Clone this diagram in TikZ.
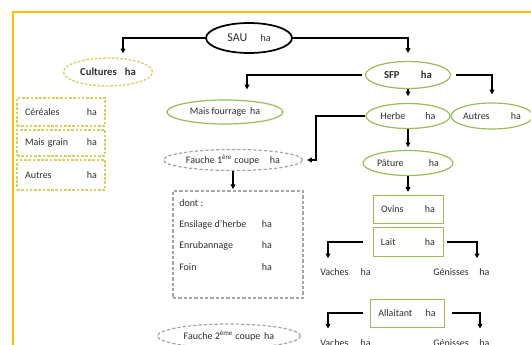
\documentclass[tikz,border=0pt]{standalone}
\usepackage{fontspec}
\setmainfont{Carlito}
\usetikzlibrary{shapes.geometric, arrows.meta, positioning}
\definecolor{framegold}{RGB}{255,192,0}
\definecolor{olivegreen}{RGB}{155,187,89}
\definecolor{dashyellow}{RGB}{214,208,96}
\definecolor{dashgray}{RGB}{165,165,165}
\definecolor{txtgray}{RGB}{45,45,45}

\begin{document}
\begin{tikzpicture}[x=0.75pt, y=-0.75pt, >={Triangle[length=3.5pt,width=3.5pt]},
      font=\fontsize{7.5}{9}\selectfont, text=txtgray,
      oval/.style={ellipse, inner sep=0pt},
      grn/.style={oval, draw=olivegreen, line width=0.9pt},
      ylw/.style={draw=dashyellow, line width=1pt, dash pattern=on 2pt off 1.2pt},
      gry/.style={draw=dashgray, line width=0.9pt, dash pattern=on 2.5pt off 1.5pt},
      bx/.style={draw=olivegreen, line width=0.7pt, minimum width=52.5pt,
                 minimum height=21pt, inner sep=0pt},
      cell/.style={ylw, minimum width=66pt, text width=54pt, inner xsep=6pt, inner ysep=0pt},
      arr/.style={->, draw=black, line width=1pt},
      lbl/.style={anchor=west, inner sep=0pt}]
    \useasboundingbox (0,0) rectangle (531,345);
    \draw[framegold, line width=1.8pt] (13,345) -- (13,12) -- (531,12);

    \node[oval, draw=black, line width=1.3pt, minimum width=64.5pt, minimum height=22.5pt]
        (sau) at (249,38) {{\fontsize{9}{11}\selectfont SAU}\hspace{10pt}ha};
    \node[oval, ylw, minimum width=66.75pt, minimum height=21pt,
          font=\fontsize{8}{10}\selectfont\bfseries] (cult) at (108,72) {Cultures\hspace{6pt}ha};
    \node[cell, minimum height=21pt]   (cer)   at (61,112) {Céréales\hfill ha};
    \node[cell, minimum height=19.5pt] (maisg) at (61,143) {Mais grain\hfill ha};
    \node[cell, minimum height=22.5pt] (autc)  at (61,175) {Autres\hfill ha};

    \node[grn, minimum width=63.75pt, minimum height=20.25pt,
          font=\fontsize{8}{10}\selectfont\bfseries] (sfp) at (408,75) {SFP\hspace{16pt}ha};
    \node[grn, minimum width=87pt, minimum height=18pt] (maisf) at (225,112) {Mais fourrage\hspace{3pt}ha};
    \node[grn, minimum width=63pt, minimum height=18.75pt] (herbe) at (408,116) {Herbe\hspace{15pt}ha};
    \node[grn, minimum width=58.5pt, minimum height=19.5pt] (autres) at (492,116) {Autres\hspace{16pt}ha};
    \node[grn, minimum width=67.5pt, minimum height=18.75pt] (pature) at (408,163) {Pâture\hspace{19pt}ha};
    \node[bx] (ovins) at (408,209) {Ovins\hspace{16pt}ha};
    \node[bx, minimum height=21.75pt] (lait) at (408,242) {Lait\hspace{22pt}ha};
    \node[bx, minimum width=55.5pt] (allait) at (407,313) {Allaitant\hspace{10pt}ha};

    \node[oval, gry, minimum width=104.25pt, minimum height=15.75pt]
        (fauche1) at (233,160) {Fauche 1\textsuperscript{ère} coupe\hspace{8pt}ha};
    \node[gry, minimum width=97.5pt, minimum height=80.25pt] (dont) at (238,244.5) {};
    \node[anchor=north west, align=left, inner sep=0pt, font=\fontsize{7.5}{16}\selectfont]
        (dontlist) at (179,199) {dont :\\
          \makebox[62pt][l]{Ensilage d'herbe}ha\\
          \makebox[62pt][l]{Enrubannage}ha\\
          \makebox[62pt][l]{Foin}ha};
    \node[oval, gry, minimum width=107.25pt, minimum height=18pt]
        (fauche2) at (229,336) {Fauche 2\textsuperscript{ème} coupe\hspace{3pt}ha};

    \node[lbl] (vach1) at (320,272) {Vaches\hspace{9pt}ha};
    \node[lbl] (gen1)  at (433,272) {Génisses\hspace{8pt}ha};
    \node[lbl] (vach2) at (320,343) {Vaches\hspace{9pt}ha};
    \node[lbl] (gen2)  at (433,343) {Génisses\hspace{8pt}ha};

    \draw[arr, shorten >=3pt] (sau.west) -| ([xshift=11.25pt]cult.north);
    \draw[arr, shorten >=6pt] (sau.east) -| (sfp.north);
    \draw[arr, shorten <=2pt, shorten >=7.5pt] (sfp.west) -| ([xshift=16.5pt]maisf.north);
    \draw[arr, shorten <=4pt, shorten >=6pt] (sfp.east) -| (autres.north);
    \draw[arr, shorten >=5pt] (sfp.south) -- (herbe.north);
    \draw[arr, shorten >=2pt] (herbe.south) -- (pature.north);
    \draw[arr, shorten >=2pt] (pature.south) -- (ovins.north);
    \coordinate (hbend) at (316,160);
    \draw[arr, shorten >=3pt] (herbe.west) -| (hbend) -- (fauche1.east);
    \draw[arr, shorten >=1pt] (fauche1.south) -- (fauche1.south |- dont.north);
    \draw[arr, shorten <=7.5pt, shorten >=7.5pt] (lait.west) -| ([xshift=6pt]vach1.north west);
    \draw[arr, shorten <=3pt, shorten >=7.5pt] (lait.east) -| ([xshift=33pt]gen1.north west);
    \draw[arr, shorten <=5.25pt, shorten >=8pt] (allait.west) -| ([xshift=6pt]vach2.north west);
    \draw[arr, shorten <=6pt, shorten >=8pt] (allait.east) -| ([xshift=35.25pt]gen2.north west);
  \end{tikzpicture}
\end{document}
